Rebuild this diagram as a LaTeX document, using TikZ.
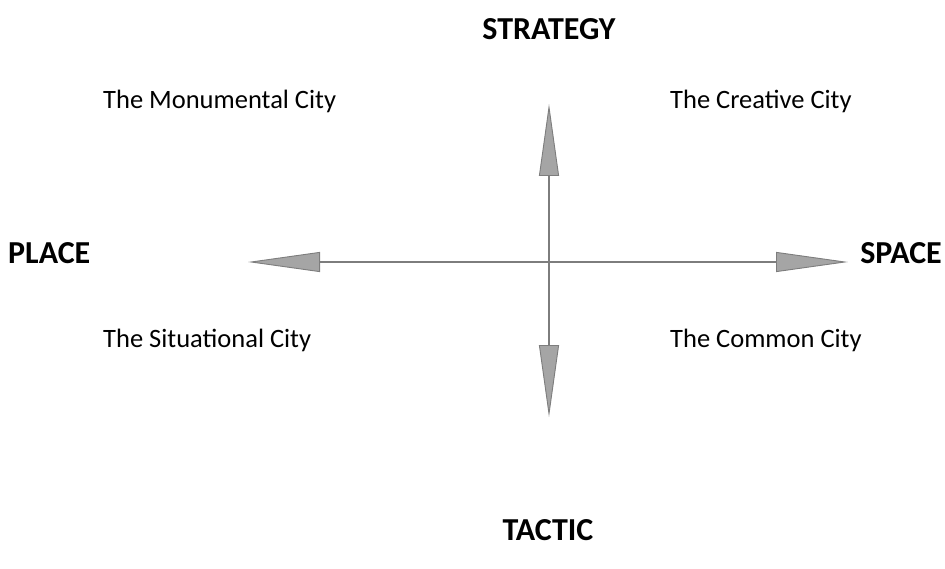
\documentclass[tikz,border=0pt]{standalone}
\usepackage{fontspec}
\setmainfont{Carlito}
\usetikzlibrary{arrows.meta}

\definecolor{shaftgray}{RGB}{125,125,125}
\definecolor{headfill}{RGB}{165,165,165}

\tikzset{
  axis/.style={
    draw=shaftgray, line width=2.4pt,
    {Triangle[length=72pt, width=20pt, line width=0.9pt, fill=headfill]}-{Triangle[length=72pt, width=20pt, line width=0.9pt, fill=headfill]}
  },
  pole/.style={inner sep=0pt, font=\fontsize{32}{36}\selectfont\bfseries},
  quadrant/.style={inner sep=0pt, anchor=base west, font=\fontsize{26.5}{30}\selectfont}
}

\begin{document}
\begin{tikzpicture}[x=1pt, y=-1pt]
  \useasboundingbox (0,0) rectangle (945,569);

  % ends of the two axes
  \coordinate (west)  at (248,262);
  \coordinate (east)  at (848,262);
  \coordinate (north) at (549,104);
  \coordinate (south) at (549,417);

  \draw[axis] (west) -- (east);
  \draw[axis] (north) -- (south);

  % poles
  \node[pole, anchor=base] (strategy) at (549,40) {STRATEGY};
  \node[pole, anchor=base] (tactic)   at (548,540) {TACTIC};
  \node[pole, anchor=base west] (place) at (8,264) {PLACE};
  \node[pole, anchor=base east] (space) at (942,264) {SPACE};

  % quadrants
  \node[quadrant] (monumental)  at (103,109) {The Monumental City};
  \node[quadrant] (creative)    at (670,109) {The Creative City};
  \node[quadrant] (situational) at (103,347) {The Situational City};
  \node[quadrant] (common)      at (670,347) {The Common City};
\end{tikzpicture}
\end{document}
